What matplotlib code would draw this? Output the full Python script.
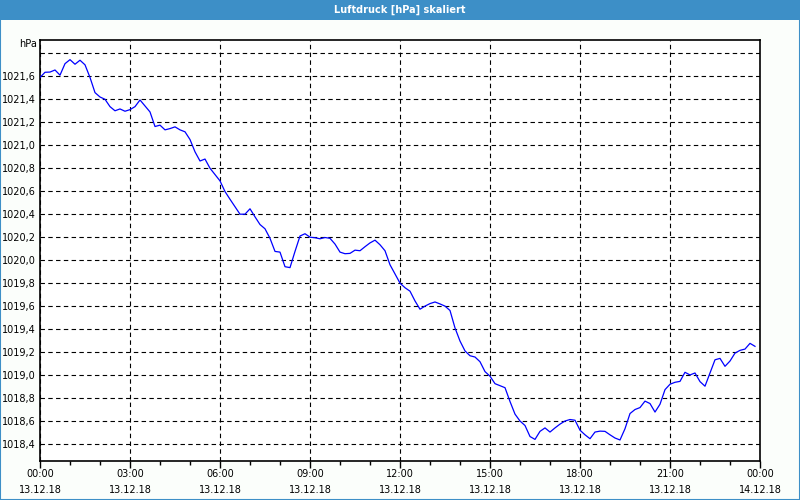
import matplotlib
matplotlib.use("Agg")
import matplotlib.pyplot as plt
import matplotlib.dates as mdates
from matplotlib.patches import Rectangle
from matplotlib.ticker import FixedLocator, FuncFormatter
import numpy as np
import pandas as pd

title = "Luftdruck [hPa] skaliert"
unit_label = "hPa"
start = "2018-12-13 00:00"
end = "2018-12-14 00:00"
step_minutes = 10

pressure = [
    1021.59, 1021.635, 1021.637, 1021.655, 1021.61, 1021.71, 1021.745, 1021.705, 1021.74, 1021.70,
    1021.59, 1021.458, 1021.42, 1021.40, 1021.336, 1021.30, 1021.316, 1021.296, 1021.31, 1021.336,
    1021.394, 1021.342, 1021.29, 1021.163, 1021.175, 1021.134, 1021.145, 1021.16, 1021.134, 1021.117,
    1021.05, 1020.943, 1020.863, 1020.88, 1020.80, 1020.745, 1020.69, 1020.597, 1020.53, 1020.465,
    1020.40, 1020.40, 1020.447, 1020.377, 1020.31, 1020.273, 1020.19, 1020.076, 1020.07, 1019.943,
    1019.935, 1020.076, 1020.21, 1020.23, 1020.20, 1020.195, 1020.186, 1020.197, 1020.19, 1020.14,
    1020.07, 1020.056, 1020.059, 1020.087, 1020.082, 1020.117, 1020.15, 1020.174, 1020.134, 1020.082,
    1019.96, 1019.88, 1019.80, 1019.76, 1019.73, 1019.645, 1019.573, 1019.60, 1019.622, 1019.636,
    1019.619, 1019.60, 1019.562, 1019.41, 1019.296, 1019.21, 1019.168, 1019.157, 1019.116, 1019.03,
    1018.99, 1018.925, 1018.908, 1018.89, 1018.77, 1018.66, 1018.60, 1018.561, 1018.465, 1018.44,
    1018.51, 1018.54, 1018.504, 1018.54, 1018.573, 1018.60, 1018.613, 1018.607, 1018.52, 1018.48,
    1018.446, 1018.504, 1018.512, 1018.51, 1018.48, 1018.452, 1018.435, 1018.533, 1018.665, 1018.70,
    1018.717, 1018.773, 1018.752, 1018.678, 1018.746, 1018.873, 1018.92, 1018.937, 1018.945, 1019.024,
    1019.001, 1019.018, 1018.943, 1018.903, 1019.018, 1019.133, 1019.145, 1019.076, 1019.122, 1019.191,
    1019.215, 1019.226, 1019.276, 1019.25,
]
y_ticks = [1018.4, 1018.6, 1018.8, 1019.0, 1019.2, 1019.4, 1019.6, 1019.8, 1020.0,
           1020.2, 1020.4, 1020.6, 1020.8, 1021.0, 1021.2, 1021.4, 1021.6, 1021.8]
y_tick_labels_shown = [1018.4, 1018.6, 1018.8, 1019.0, 1019.2, 1019.4, 1019.6, 1019.8, 1020.0,
                       1020.2, 1020.4, 1020.6, 1020.8, 1021.0, 1021.2, 1021.4, 1021.6]

times = pd.date_range(start, periods=len(pressure), freq=f"{step_minutes}min")

BLUE_BAR = "#3d8fc7"
BG = "#fbfefb"

fig = plt.figure(figsize=(8, 5), dpi=100, facecolor=BG)
# title bar
fig.patches.append(Rectangle((0, 0.96), 1, 0.04, transform=fig.transFigure,
                             facecolor=BLUE_BAR, edgecolor="none", zorder=0))
fig.patches.append(Rectangle((0.0006, 0.001), 0.9988, 0.998, transform=fig.transFigure,
                             facecolor="none", edgecolor=BLUE_BAR, linewidth=1.5, zorder=1))
fig.text(0.5, 0.981, title, color="white", ha="center", va="center",
         fontsize=7, fontweight="bold", family="DejaVu Sans")

ax = fig.add_axes([0.05, 0.078, 0.90, 0.842])
ax.set_facecolor("white")
ax.plot(times, pressure, color="#0000ff", linewidth=0.9, zorder=3)

ax.set_xlim(pd.Timestamp(start), pd.Timestamp(end))
ax.set_ylim(1018.252, 1021.916)

ax.yaxis.set_major_locator(FixedLocator(y_ticks))
ax.yaxis.set_major_formatter(FuncFormatter(
    lambda v, p: (f"{v:.1f}".replace(".", ",") if any(abs(v - t) < 1e-6 for t in y_tick_labels_shown) else "")))
ax.tick_params(axis="y", length=0, pad=3, labelsize=7)

ax.xaxis.set_major_locator(mdates.HourLocator(byhour=range(0, 24, 3)))
ax.xaxis.set_minor_locator(mdates.HourLocator())
ax.xaxis.set_major_formatter(mdates.DateFormatter("%H:%M\n%d.%m.%y"))
ax.tick_params(axis="x", which="major", length=5, width=1, pad=1, labelsize=7)
ax.tick_params(axis="x", which="minor", length=3, width=1)
for lbl in ax.get_xticklabels():
    lbl.set_linespacing(1.75)

ax.grid(True, which="major", color="black", linestyle=(0, (4, 3)), linewidth=0.8)
for s in ax.spines.values():
    s.set_color("black")
    s.set_linewidth(1.2)

fig.text(0.046, 0.912, unit_label, ha="right", va="center", fontsize=7)

fig.savefig("out.png", dpi=100, facecolor=BG)
